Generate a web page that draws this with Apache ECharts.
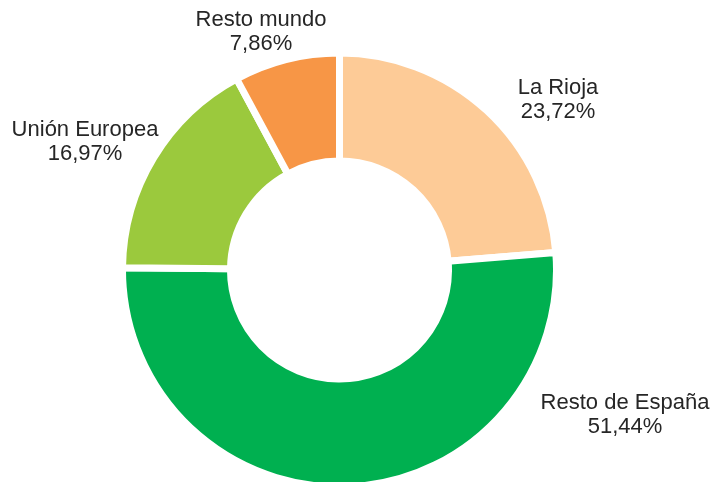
<!DOCTYPE html>
<html lang="es">
  <head>
    <meta charset="UTF-8">
    <title>Distribución</title>
    <style>
      html, body { margin: 0; padding: 0; background: #fff; }
      #main { width: 713px; height: 482px; }
    </style>
  </head>
  <body>
    <div id="main"></div>
    <script src="https://cdn.jsdelivr.net/npm/echarts@6/dist/echarts.min.js"></script>
    <script type="text/javascript">
      // datos del gráfico
      var categories = ['La Rioja', 'Resto de España', 'Unión Europea', 'Resto mundo'];
      var values = [23.72, 51.44, 16.97, 7.86];
      var colors = ['#FDCB97', '#00B050', '#9BC93D', '#F79646'];

      // posición de cada etiqueta (centro del bloque de texto)
      var labelPos = [[558, 100], [625, 415], [85, 142], [261, 32]];

      var myChart = echarts.init(document.getElementById('main'));

      var option = {
        animation: false,
        series: [{
          type: 'pie',
          center: [339.5, 270],
          radius: [109, 217],
          startAngle: 90,
          clockwise: true,
          avoidLabelOverlap: false,
          itemStyle: { borderColor: '#fff', borderWidth: 7 },
          label: {
            show: true,
            position: 'outside',
            color: '#262626',
            fontFamily: 'Liberation Sans, Arial, sans-serif',
            fontSize: 22,
            lineHeight: 24,
            align: 'center',
            formatter: function (p) {
              return p.name + '\n' + p.value.toFixed(2).replace('.', ',') + '%';
            }
          },
          labelLine: { show: false },
          labelLayout: function (params) {
            var pos = labelPos[params.dataIndex];
            return { x: pos[0], y: pos[1], align: 'center', verticalAlign: 'middle' };
          },
          data: categories.map(function (c, i) {
            return { name: c, value: values[i], itemStyle: { color: colors[i] } };
          })
        }]
      };

      myChart.setOption(option);
    </script>
  </body>
</html>
